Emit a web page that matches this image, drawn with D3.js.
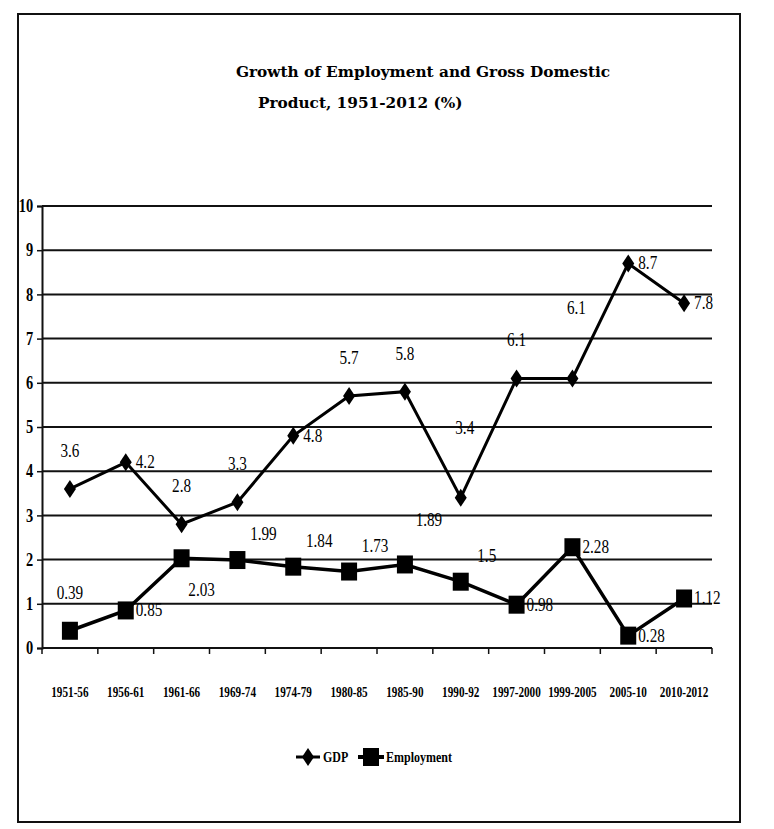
<!DOCTYPE html>
<html>
<head>
<meta charset="utf-8">
<script src="https://cdn.jsdelivr.net/npm/d3@7"></script>
<style>
  body { margin: 0; background: #fff; }
  svg text { fill: #000; }
</style>
</head>
<body>
<div id="chart"></div>
<script>
var periods = ['1951-56', '1956-61', '1961-66', '1969-74', '1974-79', '1980-85',
  '1985-90', '1990-92', '1997-2000', '1999-2005', '2005-10', '2010-2012'];
var gdp = [3.6, 4.2, 2.8, 3.3, 4.8, 5.7, 5.8, 3.4, 6.1, 6.1, 8.7, 7.8];
var employment = [0.39, 0.85, 2.03, 1.99, 1.84, 1.73, 1.89, 1.5, 0.98, 2.28, 0.28, 1.12];
var gdpLabelSide = ['top', 'right', 'top', 'top', 'right', 'top', 'top', 'high', 'top', 'high', 'right', 'right'];
var empLabelSide = ['top', 'right', 'below', 'topright', 'topright', 'topright', 'highright', 'topright', 'right', 'right', 'right', 'right'];
var yTicks = [0, 1, 2, 3, 4, 5, 6, 7, 8, 9, 10];

var width = 774, height = 829;
var margin = { left: 42, right: 62, top: 206, bottom: 181 };

var svg = d3.select('#chart').append('svg')
    .attr('width', width)
    .attr('height', height);

// page frame
svg.append('rect')
    .attr('x', 18).attr('y', 14)
    .attr('width', 722).attr('height', 808)
    .attr('fill', 'none')
    .attr('stroke', '#111')
    .attr('stroke-width', 2);

// title
var title = svg.append('text')
    .attr('font-family', 'DejaVu Serif')
    .attr('font-weight', 'bold')
    .attr('font-size', 15.3);
title.append('tspan').attr('x', 236).attr('y', 77).text('Growth of Employment and Gross Domestic');
title.append('tspan').attr('x', 258).attr('y', 108).text('Product, 1951-2012 (%)');

var x = d3.scalePoint()
    .domain(periods)
    .range([margin.left, width - margin.right])
    .padding(0.5);

var y = d3.scaleLinear()
    .domain([0, 10])
    .range([height - margin.bottom, margin.top]);

var step = x.step();

// gridlines
svg.selectAll('.grid')
    .data(yTicks)
  .enter().append('line')
    .attr('class', 'grid')
    .attr('x1', margin.left)
    .attr('x2', width - margin.right)
    .attr('y1', function(d) { return y(d); })
    .attr('y2', function(d) { return y(d); })
    .attr('stroke', '#111')
    .attr('stroke-width', 2);

// y axis
var yAxis = svg.append('g')
    .attr('transform', 'translate(' + margin.left + ',0)')
    .call(d3.axisLeft(y).tickValues(yTicks).tickSize(5).tickFormat(d3.format('d')));
yAxis.select('.domain').attr('stroke', '#111').attr('stroke-width', 2);
yAxis.selectAll('.tick line').attr('stroke', '#111').attr('stroke-width', 1.5);
yAxis.selectAll('text')
    .attr('font-family', 'Liberation Serif')
    .attr('font-weight', 'bold')
    .attr('font-size', 18)
    .attr('transform', 'scale(0.8,1)')
    .attr('x', -11);

// x axis ticks between categories
var bounds = d3.range(periods.length + 1).map(function(i) { return margin.left + i * step; });
svg.selectAll('.xtick')
    .data(bounds)
  .enter().append('line')
    .attr('x1', function(d) { return d; })
    .attr('x2', function(d) { return d; })
    .attr('y1', y(0))
    .attr('y2', y(0) + 6)
    .attr('stroke', '#111')
    .attr('stroke-width', 1.5);

svg.selectAll('.xlabel')
    .data(periods)
  .enter().append('text')
    .attr('transform', function(d) { return 'translate(' + x(d) + ',' + (y(0) + 49) + ') scale(0.8,1)'; })
    .attr('text-anchor', 'middle')
    .attr('font-family', 'Liberation Serif')
    .attr('font-weight', 'bold')
    .attr('font-size', 14)
    .text(function(d) { return d; });

var line = d3.line()
    .x(function(d, i) { return x(periods[i]); })
    .y(function(d) { return y(d); });

svg.append('path')
    .datum(gdp)
    .attr('d', line)
    .attr('fill', 'none')
    .attr('stroke', '#000')
    .attr('stroke-width', 3);

svg.append('path')
    .datum(employment)
    .attr('d', line)
    .attr('fill', 'none')
    .attr('stroke', '#000')
    .attr('stroke-width', 3.5);

function diamond(cx, cy, s) {
  return 'M' + cx + ',' + (cy - s * 1.5) + 'L' + (cx + s) + ',' + cy +
    'L' + cx + ',' + (cy + s * 1.5) + 'L' + (cx - s) + ',' + cy + 'Z';
}

svg.selectAll('.gdp-pt')
    .data(gdp)
  .enter().append('path')
    .attr('d', function(d, i) { return diamond(x(periods[i]), y(d), 6); })
    .attr('fill', '#000');

svg.selectAll('.emp-pt')
    .data(employment)
  .enter().append('rect')
    .attr('x', function(d, i) { return x(periods[i]) - 8; })
    .attr('y', function(d) { return y(d) - 9; })
    .attr('width', 16)
    .attr('height', 18)
    .attr('fill', '#000');

// data labels
var offsets = {
  top: [0, -32, 'middle'],
  high: [4, -64, 'middle'],
  right: [10, 6, 'start'],
  below: [20, 38, 'middle'],
  topright: [26, -20, 'middle'],
  highright: [24, -38, 'middle']
};

function addLabels(values, sides) {
  svg.selectAll(null)
      .data(values)
    .enter().append('text')
      .attr('transform', function(d, i) {
        var o = offsets[sides[i]];
        return 'translate(' + (x(periods[i]) + o[0]) + ',' + (y(d) + o[1]) + ') scale(0.8,1)';
      })
      .attr('text-anchor', function(d, i) { return offsets[sides[i]][2]; })
      .attr('font-family', 'Liberation Serif')
      .attr('font-size', 19)
      .text(function(d) { return d; });
}
addLabels(gdp, gdpLabelSide);
addLabels(employment, empLabelSide);

// legend
var legend = svg.append('g').attr('transform', 'translate(296,757)');
legend.append('line').attr('x1', 0).attr('x2', 24).attr('stroke', '#000').attr('stroke-width', 3);
legend.append('path').attr('d', diamond(12, 0, 6)).attr('fill', '#000');
legend.append('text').attr('transform', 'translate(27,5) scale(0.8,1)')
    .attr('font-family', 'Liberation Serif').attr('font-weight', 'bold').attr('font-size', 15).text('GDP');
legend.append('line').attr('x1', 62).attr('x2', 88).attr('stroke', '#000').attr('stroke-width', 4);
legend.append('rect').attr('x', 67).attr('y', -9).attr('width', 16).attr('height', 18).attr('fill', '#000');
legend.append('text').attr('transform', 'translate(90,5) scale(0.8,1)')
    .attr('font-family', 'Liberation Serif').attr('font-weight', 'bold').attr('font-size', 15).text('Employment');
</script>
</body>
</html>
